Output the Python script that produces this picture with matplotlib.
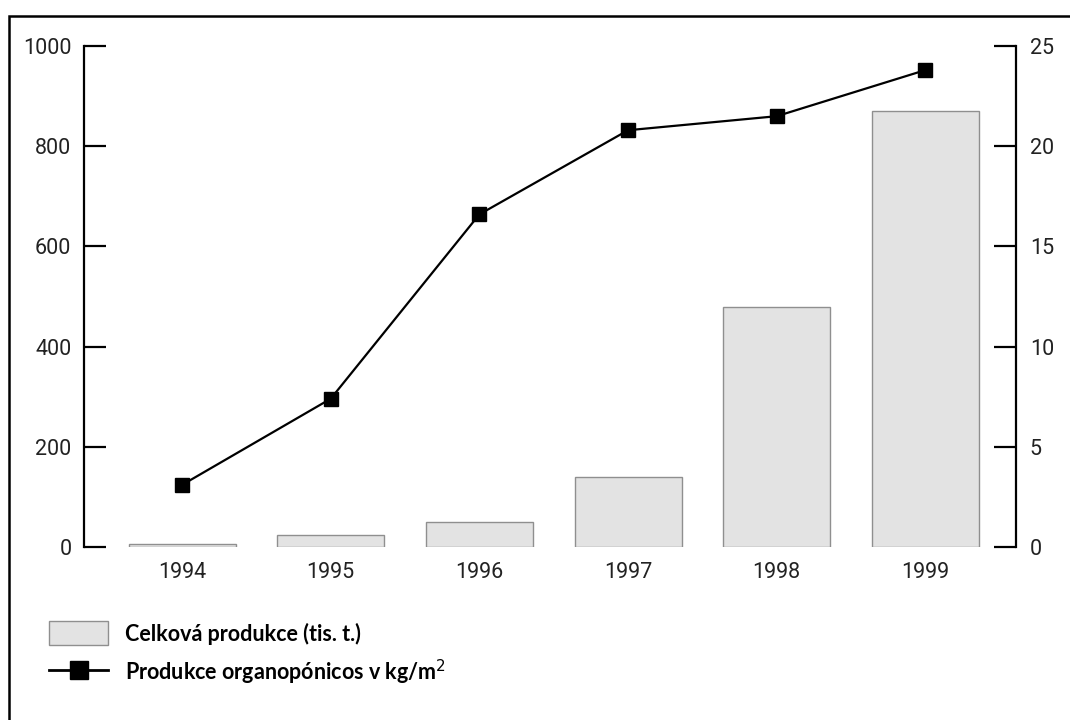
import matplotlib.pyplot as plt
from matplotlib.patches import Patch, Rectangle
from matplotlib.lines import Line2D

# --- data ---
years = ["1994", "1995", "1996", "1997", "1998", "1999"]
total_production = [5, 24, 50, 140, 479, 870]          # tis. t. (left axis)
organoponicos_yield = [3.1, 7.4, 16.6, 20.8, 21.5, 23.8]  # kg/m2 (right axis)

left_ticks = [0, 200, 400, 600, 800, 1000]
right_ticks = [0, 5, 10, 15, 20, 25]

TICK_FONT = ["Liberation Sans Narrow", "DejaVu Sans Condensed", "Roboto", "DejaVu Sans"]
LEGEND_FONT = ["Lato", "DejaVu Sans"]

fig = plt.figure(figsize=(10.7, 7.2), dpi=100)
ax = fig.add_axes([0.0785, 0.2403, 0.871, 0.6957])
ax2 = ax.twinx()

x = list(range(len(years)))
ax.bar(x, total_production, width=0.72, color="#e3e3e3", edgecolor="#8f8f8f", linewidth=1.0, zorder=2)
ax2.plot(x, organoponicos_yield, color="black", linewidth=1.6, marker="s",
         markersize=10, markerfacecolor="black", zorder=3)

ax.set_xlim(-0.66, 5.61)
ax.set_ylim(0, 1000)
ax2.set_ylim(0, 25)

# only the vertical spines are drawn
for a in (ax, ax2):
    a.spines["top"].set_visible(False)
    a.spines["bottom"].set_visible(False)
    a.patch.set_visible(False)
ax.spines["right"].set_visible(False)
ax2.spines["left"].set_visible(False)
ax.spines["left"].set_linewidth(1.6)
ax2.spines["right"].set_linewidth(1.6)

ax.set_yticks(left_ticks)
ax.set_yticklabels([str(t) for t in left_ticks])
ax2.set_yticks(right_ticks)
ax2.set_yticklabels([str(t) for t in right_ticks])
ax.tick_params(axis="y", direction="in", length=16, width=1.6, pad=9)
ax2.tick_params(axis="y", direction="in", length=16, width=1.6, pad=10)

ax.set_xticks(x)
ax.set_xticklabels(years)
ax.tick_params(axis="x", length=0, pad=11)

for lab in ax.get_yticklabels() + ax2.get_yticklabels() + ax.get_xticklabels():
    lab.set_fontfamily(TICK_FONT)
    lab.set_fontsize(15.5)
    lab.set_color("#222222")

# legend below the plot
handles = [
    Patch(facecolor="#e3e3e3", edgecolor="#8f8f8f", linewidth=1.0),
    Line2D([], [], color="black", linewidth=2, marker="s", markersize=13, markerfacecolor="black"),
]
labels = ["Celková produkce (tis. t.)", "Produkce organopónicos v kg/m$^2$"]
fig.legend(handles, labels, loc="upper left", bbox_to_anchor=(0.036, 0.152),
           frameon=False, handlelength=2.75, handleheight=1.35, handletextpad=0.78,
           labelspacing=0.55, borderpad=0,
           prop={"family": LEGEND_FONT, "weight": "bold", "size": 15.5})

# outer picture frame (cropped on the right and bottom)
fig.add_artist(Rectangle((9 / 1070, -0.1), 1.2, 1.1 - 16 / 720,
                         transform=fig.transFigure, fill=False,
                         edgecolor="black", linewidth=1.8))

fig.savefig("out.png", dpi=100)
